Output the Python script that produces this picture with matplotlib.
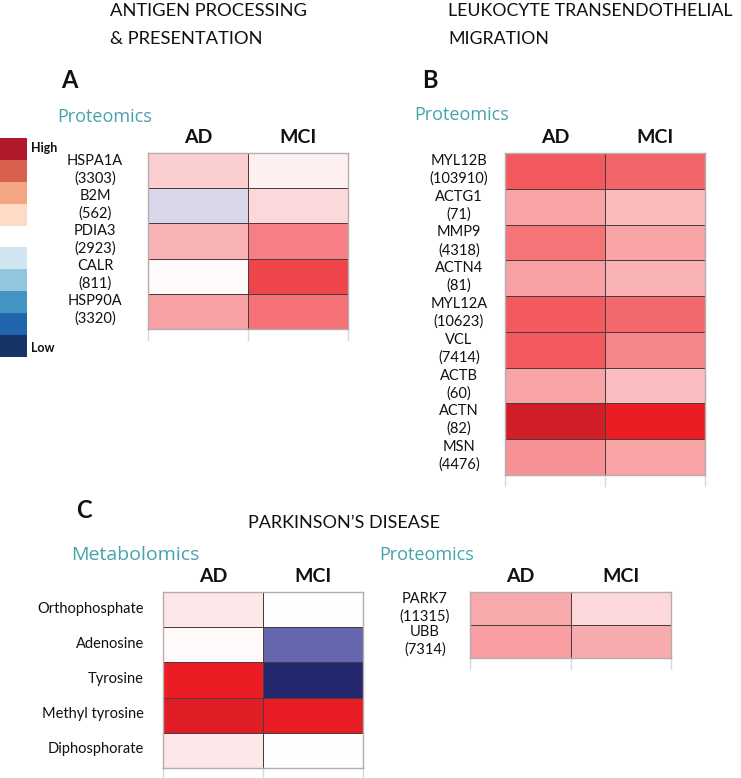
import matplotlib
matplotlib.use('Agg')
import matplotlib.pyplot as plt
import matplotlib.transforms as mtransforms
from matplotlib.colors import LinearSegmentedColormap, ListedColormap, Normalize
import numpy as np

plt.rcParams['font.family'] = ['Lato', 'DejaVu Sans']

# ---------------- data ----------------
groups = ['AD', 'MCI']

a_genes = ['HSPA1A', 'B2M', 'PDIA3', 'CALR', 'HSP90A']
a_ids = ['3303', '562', '2923', '811', '3320']
a_ad = [0.19, -0.15, 0.30, 0.02, 0.37]
a_mci = [0.06, 0.15, 0.50, 0.74, 0.56]

b_genes = ['MYL12B', 'ACTG1', 'MMP9', 'ACTN4', 'MYL12A', 'VCL', 'ACTB', 'ACTN', 'MSN']
b_ids = ['103910', '71', '4318', '81', '10623', '7414', '60', '82', '4476']
b_ad = [0.65, 0.36, 0.55, 0.37, 0.65, 0.65, 0.36, 0.97, 0.43]
b_mci = [0.61, 0.27, 0.36, 0.30, 0.60, 0.48, 0.26, 0.90, 0.36]

c_met_names = ['Orthophosphate', 'Adenosine', 'Tyrosine', 'Methyl tyrosine', 'Diphosphorate']
c_met_ad = [0.09, 0.02, 0.90, 0.93, 0.09]
c_met_mci = [0.0, -0.60, -1.0, 0.91, 0.0]

c_prot_genes = ['PARK7', 'UBB']
c_prot_ids = ['11315', '7314']
c_prot_ad = [0.34, 0.38]
c_prot_mci = [0.15, 0.33]

legend_levels = list(range(10))
legend_colors = ['#b2182b', '#d6604d', '#f4a582', '#fddbc7', '#ffffff',
                 '#d1e5f0', '#92c5de', '#4393c3', '#2166ac', '#163466']

# ---------------- style ----------------
W, H = 741, 778
fig = plt.figure(figsize=(W / 100, H / 100), dpi=100)
fig.patch.set_facecolor('white')

cmap = LinearSegmentedColormap.from_list(
    'expr', [(0.0, '#23286e'), (0.2, '#6566ad'), (0.5, '#ffffff'),
             (0.95, '#ed1c24'), (1.0, '#c81e26')])
norm = Normalize(-1, 1)
TEAL = '#45a2ae'
TXT = '#111111'
TEAL_FONT = ['Open Sans', 'DejaVu Sans']


def ax_at(l, t, r, b):
    return fig.add_axes([l / W, 1 - b / H, (r - l) / W, (b - t) / H])


def ftext(x, y, s, **kw):
    kw.setdefault('va', 'baseline')
    kw.setdefault('ha', 'left')
    return fig.text(x / W, 1 - y / H, s, **kw)


def heat(ax, ad, mci, labels, label_x, ha='center', row_px=35.0):
    data = np.column_stack([ad, mci])
    n = data.shape[0]
    ax.pcolormesh(data, cmap=cmap, norm=norm, edgecolors='#4e3c3c', linewidth=0.72)
    ax.set_xlim(0, 2)
    ax.set_ylim(n, 0)
    ax.set_xticks([0.5, 1.5])
    ax.set_xticklabels(groups, fontweight='bold', fontsize=14, color=TXT)
    ax.xaxis.tick_top()
    ax.tick_params(axis='x', length=0, pad=5)
    ax.set_yticks([])
    for s in ax.spines.values():
        s.set_color('#b5acac')
        s.set_linewidth(1.0)
    tick_len = 11.0 / row_px
    for x in [0, 1, 2]:
        ax.plot([x, x], [n, n + tick_len], color='#cfdae6', lw=1.0, clip_on=False)
    tr = mtransforms.blended_transform_factory(ax.transAxes, ax.transData)
    for i, lab in enumerate(labels):
        ax.text(label_x, i + 0.47, lab, transform=tr, ha=ha, va='center',
                fontsize=10.5, linespacing=1.3, color=TXT)


# ---------------- titles ----------------
ftext(110, 16, 'ANTIGEN PROCESSING', fontsize=13.2, color=TXT)
ftext(110, 44, '& PRESENTATION', fontsize=13.2, color=TXT)
ftext(448, 16, 'LEUKOCYTE TRANSENDOTHELIAL', fontsize=12.8, color=TXT)
ftext(448, 44, 'MIGRATION', fontsize=12.8, color=TXT)
ftext(248, 528, 'PARKINSON\u2019S DISEASE', fontsize=13, color=TXT)

ftext(61, 88, 'A', fontsize=17, fontweight='bold', color=TXT)
ftext(422, 88, 'B', fontsize=17, fontweight='bold', color=TXT)
ftext(76, 518, 'C', fontsize=17, fontweight='bold', color=TXT)

ftext(57, 122, 'Proteomics', fontsize=13, color=TEAL, family=TEAL_FONT)
ftext(414, 120, 'Proteomics', fontsize=13, color=TEAL, family=TEAL_FONT)
ftext(71, 560, 'Metabolomics', fontsize=14, color=TEAL, family=TEAL_FONT)
ftext(379, 560, 'Proteomics', fontsize=13, color=TEAL, family=TEAL_FONT)

# ---------------- legend ----------------
lax = ax_at(0, 138, 27, 357)
lax.imshow(np.array(legend_levels).reshape(-1, 1), cmap=ListedColormap(legend_colors),
           aspect='auto', interpolation='nearest', vmin=-0.5, vmax=9.5)
lax.axis('off')
ftext(31, 152, 'High', fontsize=9, fontweight='bold', color=TXT)
ftext(31, 352, 'Low', fontsize=9, fontweight='bold', color=TXT)

# ---------------- heatmaps ----------------
axA = ax_at(148, 153, 348, 329)
heat(axA, a_ad, a_mci, [f'{g}\n({i})' for g, i in zip(a_genes, a_ids)], -0.265)

axB = ax_at(505, 153, 705, 475)
heat(axB, b_ad, b_mci, [f'{g}\n({i})' for g, i in zip(b_genes, b_ids)], -0.23)

axC1 = ax_at(163, 592, 363, 768)
heat(axC1, c_met_ad, c_met_mci, c_met_names, -0.095, ha='right')

axC2 = ax_at(470, 592, 671, 658)
heat(axC2, c_prot_ad, c_prot_mci, [f'{g}\n({i})' for g, i in zip(c_prot_genes, c_prot_ids)],
     -0.224, row_px=33.0)

fig.savefig('out.png', dpi=100, facecolor='white')
